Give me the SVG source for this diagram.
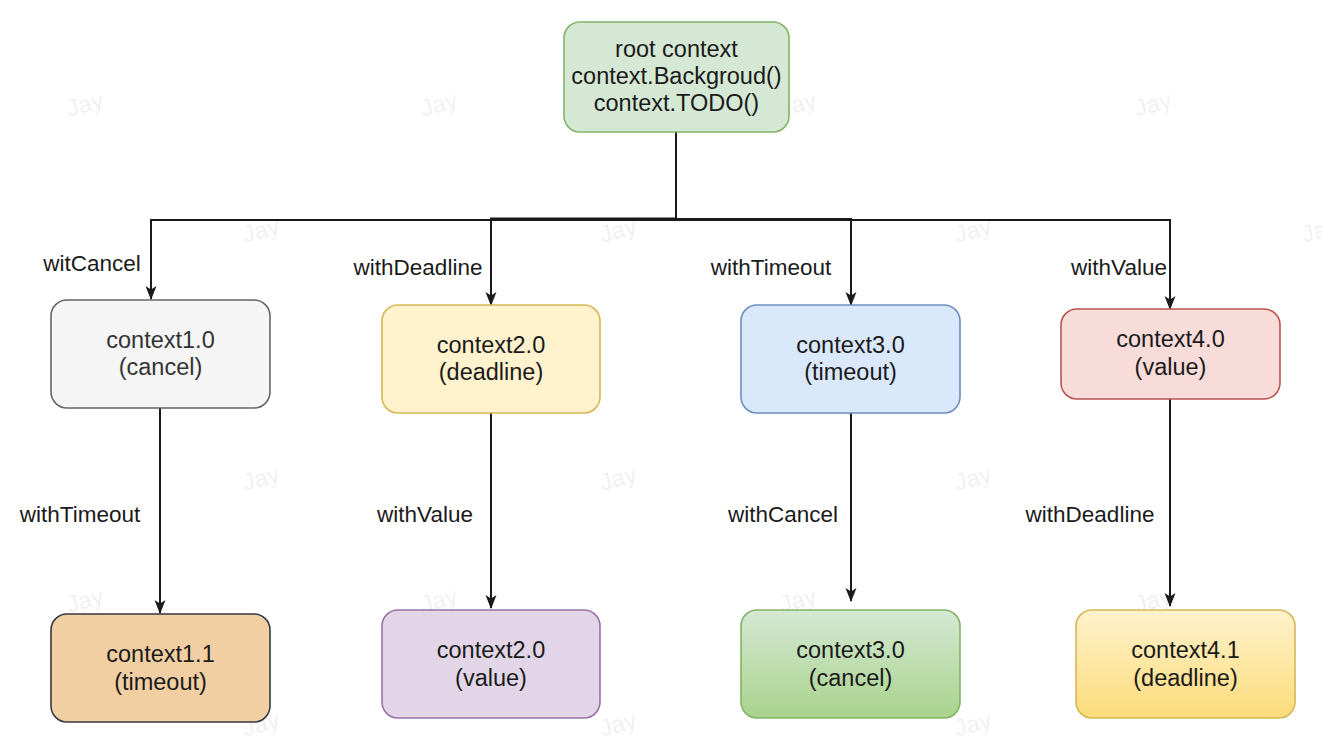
<svg xmlns="http://www.w3.org/2000/svg" width="1322" height="746" viewBox="0 0 1322 746">
<style>
.t{font-family:"Liberation Sans",Arial,sans-serif;font-size:23.5px;fill:#1a1a1a;text-anchor:middle}
.lbl{font-family:"Liberation Sans",Arial,sans-serif;font-size:22.5px;fill:#1a1a1a;text-anchor:middle}
.wm{font-family:"Liberation Sans",Arial,sans-serif;font-size:24px;fill:#000;fill-opacity:0.07;text-anchor:middle}
.e{fill:none;stroke:#1a1a1a;stroke-width:2}
.n{stroke-width:1.6}
</style>
<defs>
<marker id="arr" viewBox="0 0 14 12" refX="13" refY="6" markerWidth="14" markerHeight="12" orient="auto" markerUnits="userSpaceOnUse">
<path d="M0,0.5 L14,6 L0,11.5 L3.5,6 Z" fill="#1a1a1a"/>
</marker>
<linearGradient id="gGreen" x1="0" y1="0" x2="0" y2="1"><stop offset="0" stop-color="#d5e8d4"/><stop offset="1" stop-color="#a8d38c"/></linearGradient>
<linearGradient id="gYellow" x1="0" y1="0" x2="0" y2="1"><stop offset="0" stop-color="#fff2cc"/><stop offset="1" stop-color="#fbdc7a"/></linearGradient>
</defs>
<rect width="1322" height="746" fill="#ffffff"/>
<g id="watermarks">
<text class="wm" transform="translate(87,112) rotate(-15)">Jay</text>
<text class="wm" transform="translate(441,112) rotate(-15)">Jay</text>
<text class="wm" transform="translate(800,112) rotate(-15)">Jay</text>
<text class="wm" transform="translate(1155,112) rotate(-15)">Jay</text>
<text class="wm" transform="translate(263,238) rotate(-15)">Jay</text>
<text class="wm" transform="translate(620,238) rotate(-15)">Jay</text>
<text class="wm" transform="translate(975,238) rotate(-15)">Jay</text>
<text class="wm" transform="translate(1322,238) rotate(-15)">Jay</text>
<text class="wm" transform="translate(87,362) rotate(-15)">Jay</text>
<text class="wm" transform="translate(441,362) rotate(-15)">Jay</text>
<text class="wm" transform="translate(800,362) rotate(-15)">Jay</text>
<text class="wm" transform="translate(1155,362) rotate(-15)">Jay</text>
<text class="wm" transform="translate(263,486) rotate(-15)">Jay</text>
<text class="wm" transform="translate(620,486) rotate(-15)">Jay</text>
<text class="wm" transform="translate(975,486) rotate(-15)">Jay</text>
<text class="wm" transform="translate(87,608) rotate(-15)">Jay</text>
<text class="wm" transform="translate(441,608) rotate(-15)">Jay</text>
<text class="wm" transform="translate(800,608) rotate(-15)">Jay</text>
<text class="wm" transform="translate(1155,608) rotate(-15)">Jay</text>
<text class="wm" transform="translate(263,732) rotate(-15)">Jay</text>
<text class="wm" transform="translate(620,732) rotate(-15)">Jay</text>
<text class="wm" transform="translate(975,732) rotate(-15)">Jay</text>
</g>
<g id="connectors">
<path class="e" d="M676,132 V220 H151 V299" marker-end="url(#arr)"/>
<path class="e" d="M676,132 V218.5 H491 V305" marker-end="url(#arr)"/>
<path class="e" d="M676,132 V219 H851 V305" marker-end="url(#arr)"/>
<path class="e" d="M676,132 V220 H1170 V309" marker-end="url(#arr)"/>
<path class="e" d="M160,408 V613" marker-end="url(#arr)"/>
<path class="e" d="M491,413 V608" marker-end="url(#arr)"/>
<path class="e" d="M851,413 V601" marker-end="url(#arr)"/>
<path class="e" d="M1170,399 V606" marker-end="url(#arr)"/>
<text class="lbl" x="92" y="271">witCancel</text>
<text class="lbl" x="418" y="275">withDeadline</text>
<text class="lbl" x="771" y="275">withTimeout</text>
<text class="lbl" x="1119" y="275">withValue</text>
<text class="lbl" x="80" y="522">withTimeout</text>
<text class="lbl" x="425" y="522">withValue</text>
<text class="lbl" x="783" y="522">withCancel</text>
<text class="lbl" x="1090" y="522">withDeadline</text>
</g>
<g id="root">
<rect class="n" x="564" y="22" width="225" height="110" rx="16" fill="#d5e8d4" stroke="#82b366"/>
<text class="t" x="676.5" y="57">root context</text>
<text class="t" x="676.5" y="84">context.Backgroud()</text>
<text class="t" x="676.5" y="111">context.TODO()</text>
</g>
<g id="ctx1_0">
<rect class="n" x="51" y="300" width="219" height="108" rx="16" fill="#f5f5f5" stroke="#666666"/>
<text class="t" x="160.5" y="348" style="fill:#333333">context1.0</text>
<text class="t" x="160.5" y="375" style="fill:#333333">(cancel)</text>
</g>
<g id="ctx2_0">
<rect class="n" x="382" y="305" width="218" height="108" rx="16" fill="#fff2cc" stroke="#d6b656"/>
<text class="t" x="491" y="353">context2.0</text>
<text class="t" x="491" y="380">(deadline)</text>
</g>
<g id="ctx3_0">
<rect class="n" x="741" y="305" width="219" height="108" rx="16" fill="#dae8fc" stroke="#6c8ebf"/>
<text class="t" x="850.5" y="353">context3.0</text>
<text class="t" x="850.5" y="380">(timeout)</text>
</g>
<g id="ctx4_0">
<rect class="n" x="1061" y="309" width="219" height="90" rx="16" fill="#f8dcd9" stroke="#b85450"/>
<text class="t" x="1170.5" y="347">context4.0</text>
<text class="t" x="1170.5" y="375">(value)</text>
</g>
<g id="ctx1_1">
<rect class="n" x="51" y="614" width="219" height="108" rx="16" fill="#f2cfa3" stroke="#36393d"/>
<text class="t" x="160.5" y="662">context1.1</text>
<text class="t" x="160.5" y="690">(timeout)</text>
</g>
<g id="ctx2_0v">
<rect class="n" x="382" y="610" width="218" height="108" rx="16" fill="#e1d5e7" stroke="#9673a6"/>
<text class="t" x="491" y="658">context2.0</text>
<text class="t" x="491" y="686">(value)</text>
</g>
<g id="ctx3_0c">
<rect class="n" x="741" y="610" width="219" height="108" rx="16" fill="url(#gGreen)" stroke="#82b366"/>
<text class="t" x="850.5" y="658">context3.0</text>
<text class="t" x="850.5" y="686">(cancel)</text>
</g>
<g id="ctx4_1">
<rect class="n" x="1076" y="610" width="219" height="108" rx="16" fill="url(#gYellow)" stroke="#d6b656"/>
<text class="t" x="1185.5" y="658">context4.1</text>
<text class="t" x="1185.5" y="686">(deadline)</text>
</g>
</svg>
